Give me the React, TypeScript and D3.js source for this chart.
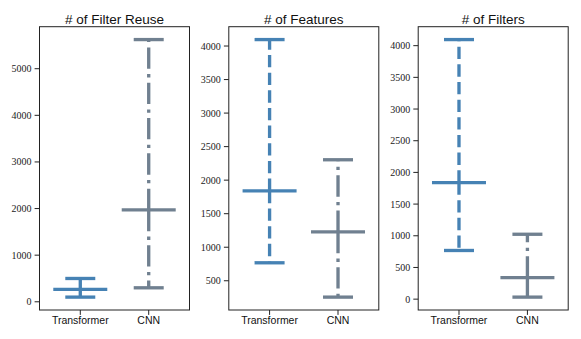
import React from "react";
import * as d3 from "d3";

// categories and colours
const categories = ["Transformer", "CNN"];
const colors = ["#4682b4", "#708090"];
const dashes = [[3.7, 1.6], [6.4, 1.6, 1, 1.6]];

const titles = ["# of Filter Reuse", "# of Features", "# of Filters"];

// min / mean / max per panel, [Transformer, CNN]
const reuseMin = [100, 300];
const reuseMean = [265, 1970];
const reuseMax = [500, 5625];

const featMin = [768, 256];
const featMean = [1840, 1228];
const featMax = [4096, 2304];

const filtMin = [768, 32];
const filtMean = [1840, 340];
const filtMax = [4096, 1024];

const reuseTicks = [0, 1000, 2000, 3000, 4000, 5000];
const featTicks = [500, 1000, 1500, 2000, 2500, 3000, 3500, 4000];
const filtTicks = [0, 500, 1000, 1500, 2000, 2500, 3000, 3500, 4000];

const panels = [
  {title: titles[0], min: reuseMin, mean: reuseMean, max: reuseMax, ticks: reuseTicks},
  {title: titles[1], min: featMin, mean: featMean, max: featMax, ticks: featTicks},
  {title: titles[2], min: filtMin, mean: filtMean, max: filtMax, ticks: filtTicks},
];

const W = 581, H = 339;
const panelLeft = [39.5, 228.8, 418.2];
const panelW = 150;
const top = 26.7, bottom = 310;
const lw = 3.33;
const capHalf = 15;
const meanHalf = 27;

function Panel({p, left}: any) {
  const lo = d3.min(p.min as number[])!;
  const hi = d3.max(p.max as number[])!;
  const pad = (hi - lo) * 0.05;
  const y = d3.scaleLinear().domain([lo - pad, hi + pad]).range([bottom, top]);
  const x = d3.scaleLinear().domain([-0.596, 1.596]).range([left, left + panelW]);

  return (
    <g>
      {categories.map((c, i) => {
        const cx = x(i);
        const dash = dashes[i].map(d => d * lw).join(",");
        return (
          <g key={c} stroke={colors[i]} strokeWidth={lw} fill="none">
            <line x1={cx} x2={cx} y1={y(p.mean[i])} y2={y(p.max[i])} strokeDasharray={dash} />
            <line x1={cx} x2={cx} y1={y(p.mean[i])} y2={y(p.min[i])} strokeDasharray={dash} />
            <line x1={cx - capHalf} x2={cx + capHalf} y1={y(p.max[i])} y2={y(p.max[i])} />
            <line x1={cx - capHalf} x2={cx + capHalf} y1={y(p.min[i])} y2={y(p.min[i])} />
            <line x1={cx - meanHalf} x2={cx + meanHalf} y1={y(p.mean[i])} y2={y(p.mean[i])} />
          </g>
        );
      })}
      <rect x={left} y={top} width={panelW} height={bottom - top} fill="none" stroke="#222" strokeWidth={1} />
      {p.ticks.map((t: number) => (
        <g key={t}>
          <line x1={left - 4.9} x2={left} y1={y(t)} y2={y(t)} stroke="#222" strokeWidth={1} />
          <text x={left - 8} y={y(t)} dy="0.35em" textAnchor="end"
                fontFamily="'Liberation Serif', serif" fontSize={10} fill="#222">{t}</text>
        </g>
      ))}
      {categories.map((c, i) => (
        <g key={c}>
          <line x1={x(i)} x2={x(i)} y1={bottom} y2={bottom + 4.9} stroke="#222" strokeWidth={1} />
          <text x={x(i)} y={bottom + 13.5} textAnchor="middle"
                fontFamily="'Liberation Sans', sans-serif" fontSize={10.5} fill="#111">{c}</text>
        </g>
      ))}
      <text x={left + panelW / 2} y={23.5} textAnchor="middle"
            fontFamily="'Liberation Sans', sans-serif" fontSize={13.5} fill="#111">{p.title}</text>
    </g>
  );
}

export default function App() {
  return (
    <svg width={W} height={H} style={{position: "absolute", left: 0, top: 0, background: "#fff"}}>
      {panels.map((p, k) => <Panel key={k} p={p} left={panelLeft[k]} />)}
    </svg>
  );
}
